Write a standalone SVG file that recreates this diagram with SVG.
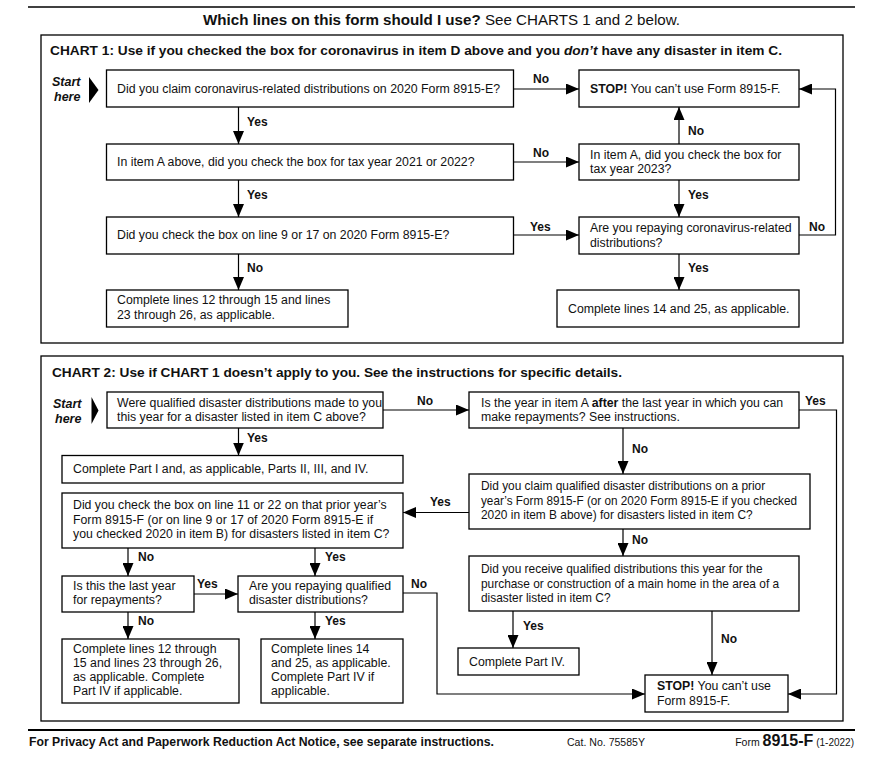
<svg xmlns="http://www.w3.org/2000/svg" width="882" height="769" viewBox="0 0 882 769">
<defs>
<marker id="ah" viewBox="0 0 13 11" refX="13" refY="5.5" markerWidth="13" markerHeight="11" markerUnits="userSpaceOnUse" orient="auto"><path d="M0,0L13,5.5L0,11z" fill="#000"/></marker>
<style>
text{font-family:"Liberation Sans",Arial,Helvetica,sans-serif;fill:#111}
.t{font-size:12.3px}
.s{font-size:11.9px}
.lb{font-size:12px;font-weight:bold}
.b{font-weight:bold}
.box{fill:#fff;stroke:#000;stroke-width:1.3}
.frame{fill:none;stroke:#000;stroke-width:1.3}
.ln{fill:none;stroke:#000;stroke-width:1.2}
.ar{fill:none;stroke:#000;stroke-width:1.2;marker-end:url(#ah)}
.st{font-size:12.5px;font-weight:bold;font-style:italic}
</style>
</defs>
<rect width="882" height="769" fill="#fff"/>

<g id="header">
<line x1="28" y1="7" x2="855" y2="7" stroke="#000" stroke-width="1.5"/>
<text x="203" y="25" font-size="15" textLength="477" lengthAdjust="spacingAndGlyphs"><tspan class="b">Which lines on this form should I use?</tspan> See CHARTS 1 and 2 below.</text>
</g>

<g id="chart1">
<rect class="frame" x="41" y="35" width="802" height="308"/>
<text x="50" y="55" font-size="13" class="b" textLength="732" lengthAdjust="spacingAndGlyphs">CHART 1: Use if you checked the box for coronavirus in item D above and you <tspan font-style="italic">don’t</tspan> have any disaster in item C.</text>
<text class="st" x="52" y="86">Start</text>
<text class="st" x="54" y="100.5">here</text>
<polygon points="89,77 98.5,90 89,103" fill="#000"/>
</g>

<g id="c1n1"><rect class="box" x="106.5" y="70" width="407" height="37"/><text class="t" x="117" y="93" textLength="383" lengthAdjust="spacingAndGlyphs">Did you claim coronavirus-related distributions on 2020 Form 8915-E?</text></g>
<g id="c1n2"><rect class="box" x="106.5" y="144" width="407" height="36"/><text class="t" x="117" y="166">In item A above, did you check the box for tax year 2021 or 2022?</text></g>
<g id="c1n3"><rect class="box" x="106.5" y="217" width="407" height="37"/><text class="t" x="117" y="239">Did you check the box on line 9 or 17 on 2020 Form 8915-E?</text></g>
<g id="c1n4"><rect class="box" x="106.5" y="290" width="241.5" height="37"/><text class="t" x="117" y="304">Complete lines 12 through 15 and lines</text><text class="t" x="117" y="318.5">23 through 26, as applicable.</text></g>
<g id="c1stop"><rect class="box" x="579" y="70" width="220" height="37"/><text class="t" x="590" y="92.5"><tspan class="b">STOP!</tspan> You can’t use Form 8915-F.</text></g>
<g id="c1n5"><rect class="box" x="579" y="144" width="220" height="36"/><text class="t" x="590" y="158.5">In item A, did you check the box for</text><text class="t" x="590" y="173">tax year 2023?</text></g>
<g id="c1n6"><rect class="box" x="579" y="217" width="220" height="37"/><text class="t" x="590" y="232">Are you repaying coronavirus-related</text><text class="t" x="590" y="246.5">distributions?</text></g>
<g id="c1n7"><rect class="box" x="557" y="290" width="242" height="37"/><text class="t" x="568" y="312.5">Complete lines 14 and 25, as applicable.</text></g>

<g id="chart2">
<rect class="frame" x="41" y="356" width="802" height="365"/>
<text x="52" y="377" font-size="12.5" class="b" textLength="570" lengthAdjust="spacingAndGlyphs">CHART 2: Use if CHART 1 doesn’t apply to you. See the instructions for specific details.</text>
<text class="st" x="53" y="408">Start</text>
<text class="st" x="55" y="422.5">here</text>
<polygon points="91.5,397 98.5,410.5 91.5,424" fill="#000"/>
</g>

<g id="c2n1"><rect class="box" x="107" y="392" width="276" height="36"/><text class="t" x="117" y="407" textLength="265" lengthAdjust="spacingAndGlyphs">Were qualified disaster distributions made to you</text><text class="t" x="117" y="421">this year for a disaster listed in item C above?</text></g>
<g id="c2n2"><rect class="box" x="469" y="392" width="330" height="36"/><text class="t" x="481" y="407">Is the year in item A <tspan class="b">after</tspan> the last year in which you can</text><text class="t" x="481" y="421">make repayments? See instructions.</text></g>
<g id="c2n3"><rect class="box" x="62" y="455.5" width="341" height="27.5"/><text class="t" x="73" y="473">Complete Part I and, as applicable, Parts II, III, and IV.</text></g>
<g id="c2n4"><rect class="box" x="469" y="474" width="341" height="55"/><text class="s" x="481" y="490">Did you claim qualified disaster distributions on a prior</text><text class="s" x="481" y="504.5" textLength="316" lengthAdjust="spacingAndGlyphs">year’s Form 8915-F (or on 2020 Form 8915-E if you checked</text><text class="s" x="481" y="519">2020 in item B above) for disasters listed in item C?</text></g>
<g id="c2n5"><rect class="box" x="62" y="493" width="341" height="55"/><text class="t" x="73" y="509">Did you check the box on line 11 or 22 on that prior year’s</text><text class="t" x="73" y="523.5">Form 8915-F (or on line 9 or 17 of 2020 Form 8915-E if</text><text class="t" x="73" y="538">you checked 2020 in item B) for disasters listed in item C?</text></g>
<g id="c2n6"><rect class="box" x="469" y="556" width="330" height="55"/><text class="s" x="481" y="573">Did you receive qualified distributions this year for the</text><text class="s" x="481" y="587.5">purchase or construction of a main home in the area of a</text><text class="s" x="481" y="602">disaster listed in item C?</text></g>
<g id="c2n7"><rect class="box" x="62" y="576" width="132" height="36"/><text class="t" x="73" y="589.5">Is this the last year</text><text class="t" x="73" y="604">for repayments?</text></g>
<g id="c2n8"><rect class="box" x="238" y="576" width="165" height="36"/><text class="t" x="249" y="589.5">Are you repaying qualified</text><text class="t" x="249" y="604">disaster distributions?</text></g>
<g id="c2n9"><rect class="box" x="62" y="639" width="177" height="64"/><text class="t" x="73" y="653">Complete lines 12 through</text><text class="t" x="73" y="667">15 and lines 23 through 26,</text><text class="t" x="73" y="681">as applicable. Complete</text><text class="t" x="73" y="695">Part IV if applicable.</text></g>
<g id="c2n10"><rect class="box" x="261" y="639" width="142" height="64"/><text class="t" x="271" y="653">Complete lines 14</text><text class="t" x="271" y="667">and 25, as applicable.</text><text class="t" x="271" y="681">Complete Part IV if</text><text class="t" x="271" y="695">applicable.</text></g>
<g id="c2n11"><rect class="box" x="458" y="648" width="121" height="27"/><text class="t" x="469" y="666">Complete Part IV.</text></g>
<g id="c2stop"><rect class="box" x="645" y="675" width="143" height="37"/><text class="t" x="657" y="690"><tspan class="b">STOP!</tspan> You can’t use</text><text class="t" x="657" y="705">Form 8915-F.</text></g>

<g id="connectors">
<line class="ar" x1="513.5" y1="89" x2="579" y2="89"/>
<line class="ar" x1="238.5" y1="107" x2="238.5" y2="144"/>
<line class="ar" x1="238.5" y1="180" x2="238.5" y2="217"/>
<line class="ar" x1="238.5" y1="254" x2="238.5" y2="290"/>
<line class="ar" x1="513.5" y1="162" x2="579" y2="162"/>
<line class="ar" x1="513.5" y1="235" x2="579" y2="235"/>
<line class="ar" x1="679" y1="144" x2="679" y2="107"/>
<line class="ar" x1="679" y1="180" x2="679" y2="217"/>
<line class="ar" x1="679" y1="254" x2="679" y2="290"/>
<polyline class="ar" points="799,235 835.5,235 835.5,89 799,89"/>

<line class="ar" x1="383" y1="410" x2="469" y2="410"/>
<line class="ar" x1="238.5" y1="428" x2="238.5" y2="455.5"/>
<polyline class="ar" points="799,410 836.5,410 836.5,694 788,694"/>
<line class="ar" x1="623" y1="428" x2="623" y2="474"/>
<line class="ar" x1="469" y1="512.5" x2="403" y2="512.5"/>
<line class="ar" x1="623" y1="529" x2="623" y2="556"/>
<line class="ar" x1="513" y1="611" x2="513" y2="648"/>
<line class="ar" x1="712" y1="611" x2="712" y2="675"/>
<line class="ar" x1="128" y1="548" x2="128" y2="576"/>
<line class="ar" x1="315" y1="548" x2="315" y2="576"/>
<line class="ar" x1="194" y1="594" x2="238" y2="594"/>
<line class="ar" x1="128" y1="612" x2="128" y2="639"/>
<line class="ar" x1="315" y1="612" x2="315" y2="639"/>
<polyline class="ar" points="403,593 437,593 437,694 645,694"/>

<text class="lb" x="533" y="83">No</text>
<text class="lb" x="247" y="125.5">Yes</text>
<text class="lb" x="247" y="198.5">Yes</text>
<text class="lb" x="247" y="271.5">No</text>
<text class="lb" x="533" y="156.5">No</text>
<text class="lb" x="688" y="134.5">No</text>
<text class="lb" x="688" y="198.5">Yes</text>
<text class="lb" x="530" y="230.5">Yes</text>
<text class="lb" x="809" y="230.5">No</text>
<text class="lb" x="688" y="271.5">Yes</text>

<text class="lb" x="417" y="405">No</text>
<text class="lb" x="247" y="441.5">Yes</text>
<text class="lb" x="805" y="405">Yes</text>
<text class="lb" x="632" y="452.5">No</text>
<text class="lb" x="430" y="506">Yes</text>
<text class="lb" x="632" y="543.5">No</text>
<text class="lb" x="138" y="560.5">No</text>
<text class="lb" x="325" y="560.5">Yes</text>
<text class="lb" x="197" y="587.5">Yes</text>
<text class="lb" x="411" y="587.5">No</text>
<text class="lb" x="138" y="624.5">No</text>
<text class="lb" x="325" y="624.5">Yes</text>
<text class="lb" x="523" y="629.5">Yes</text>
<text class="lb" x="721" y="642.5">No</text>
</g>

<g id="footer">
<line x1="28" y1="730" x2="855" y2="730" stroke="#000" stroke-width="2"/>
<text x="29" y="746" font-size="12" class="b" textLength="465" lengthAdjust="spacingAndGlyphs">For Privacy Act and Paperwork Reduction Act Notice, see separate instructions.</text>
<text x="567" y="746" font-size="10" textLength="78" lengthAdjust="spacingAndGlyphs">Cat. No. 75585Y</text>
<text x="854" y="746" text-anchor="end" font-size="10.5">Form <tspan font-size="16" class="b">8915-F</tspan> <tspan font-size="10">(1-2022)</tspan></text>
</g>
</svg>
